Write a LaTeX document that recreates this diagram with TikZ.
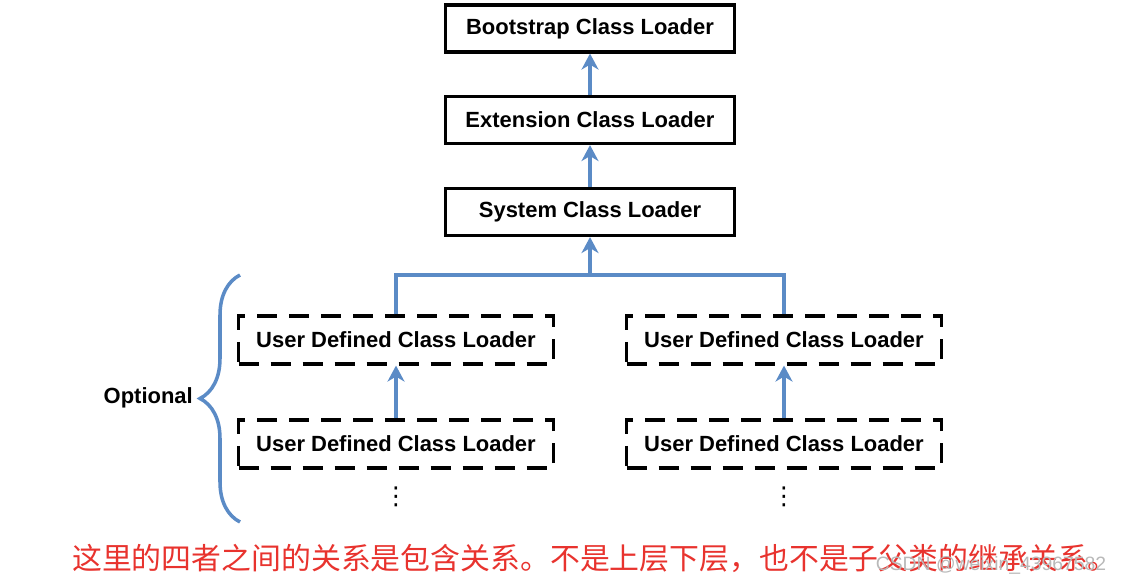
\documentclass[tikz,border=0pt]{standalone}
\usepackage{fontspec}
\setmainfont{Liberation Sans}
\newfontfamily\cjk{Noto Sans CJK SC}
\newfontfamily\sym{DejaVu Sans}
\usepackage{xcolor}
\usepackage{tikz}
\usetikzlibrary{arrows.meta,decorations.pathreplacing}

\definecolor{lnkblue}{HTML}{5B8BC6}
\definecolor{notered}{HTML}{E8332E}

\begin{document}
\begin{tikzpicture}[line join=miter,
                    ldr/.style={draw=black,line width=1.8pt,fill=white,
                    minimum width=5.78cm,minimum height=0.94cm,
                    font=\fontsize{12.5}{15}\selectfont\bfseries,inner sep=0pt},
                    udl/.style={ldr,dash pattern=on 0.4cm off 0.24cm,
                    minimum width=6.30cm,minimum height=0.96cm},
                    lnk/.style={draw=lnkblue,line width=2pt,
                    -{Stealth[length=3.2mm,width=3.4mm,inset=1mm]}},
                    bar/.style={draw=lnkblue,line width=2pt},
                    more/.style={font=\sym\fontsize{14}{17}\selectfont}]
    \useasboundingbox (0,0) rectangle (22.52,11.66);

    \node[ldr](boot) at (11.80,11.09) {Bootstrap Class Loader};
    \node[ldr](ext)  at (11.80,9.26) {Extension Class Loader};
    \node[ldr](sys)  at (11.80,7.42) {System Class Loader};

    \node[udl](ul1) at (7.92,4.86) {User Defined Class Loader};
    \node[udl](ul2) at (7.92,2.78) {User Defined Class Loader};
    \node[udl](ur1) at (15.68,4.86) {User Defined Class Loader};
    \node[udl](ur2) at (15.68,2.78) {User Defined Class Loader};

    \node[more](dotl) at (7.92,1.72) {⋮};
    \node[more](dotr) at (15.68,1.72) {⋮};

    \draw[lnk] (ext) -- (boot);
    \draw[lnk] (sys) -- (ext);
    \coordinate (fork) at (11.80,6.16);
    \draw[bar] (ul1.north) |- (fork) -| (ur1.north);
    \draw[lnk] (fork) -- (sys);
    \draw[lnk] (ul2) -- (ul1);
    \draw[lnk] (ur2) -- (ur1);

    % brace round the optional loaders
    \draw[bar,decorate,decoration={brace,amplitude=0.8cm}]
        (4.80,1.22) -- (4.80,6.16) coordinate[midway,xshift=-0.8cm](tip);
    \node[font=\fontsize{12.5}{15}\selectfont\bfseries,anchor=east](opt)
        at (3.98,3.70) {Optional};

    \node[text=notered,font=\cjk\fontsize{17}{20}\selectfont](note) at (11.90,0.50)
        {这里的四者之间的关系是包含关系。不是上层下层，也不是子父类的继承关系。};
    \node[text=gray!55,font=\fontsize{11}{13}\selectfont](mark) at (19.82,0.36)
        {CSDN @weixin\_43967582};
\end{tikzpicture}
\end{document}
